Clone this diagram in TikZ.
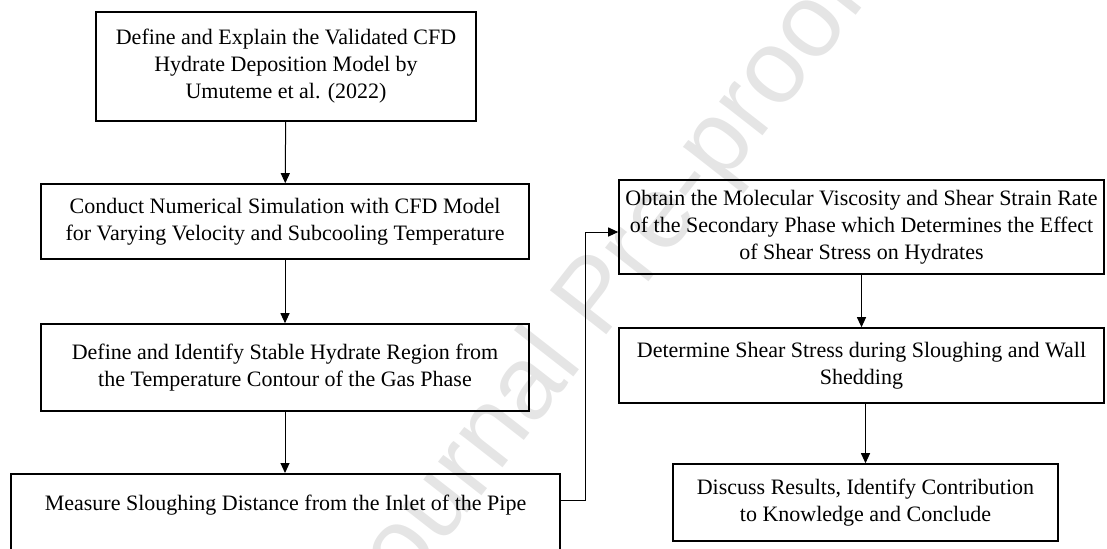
\documentclass[tikz,border=0pt]{standalone}
\usepackage{fontspec}
\setmainfont{Liberation Serif}
\newfontfamily\wmfont{Liberation Sans}
\usetikzlibrary{arrows.meta, positioning}

\begin{document}
\begin{tikzpicture}[x=0.5pt, y=-0.5pt,
	stepbox/.style = {draw, line width=0.8pt, align=center, inner sep=0pt,
		font=\fontsize{11}{13.5}\selectfont},
	flow/.style = {-{Triangle[length=5pt, width=4.5pt]}, line width=0.5pt},
]
	\useasboundingbox (0,0) rectangle (1107,548);
	\clip (0,0) rectangle (1107,548);

	% watermark
	\node (wm) [rotate=52, text=black!10, font=\wmfont\fontsize{52}{52}\selectfont] at (600,300) {Journal Pre-proof};

	\node (s1) [stepbox, minimum width=190pt, minimum height=54.5pt] at (286,66.5)
		{Define and Explain the Validated CFD\\Hydrate Deposition Model by\\Umuteme et al. (2022)};
	\node (s2) [stepbox, minimum width=244pt, minimum height=37.5pt] at (285,221.5)
		{Conduct Numerical Simulation with CFD Model\\for Varying Velocity and Subcooling Temperature};
	\node (s3) [stepbox, minimum width=244pt, minimum height=43.5pt] at (285,367.5)
		{Define and Identify Stable Hydrate Region from\\the Temperature Contour of the Gas Phase};
	\node (s4) [stepbox, minimum width=274.5pt, text height=18.5pt, text depth=45pt, anchor=north] at (285.5,473)
		{Measure Sloughing Distance from the Inlet of the Pipe};
	\node (s5) [stepbox, minimum width=242.5pt, minimum height=47pt] at (861.5,227)
		{Obtain the Molecular Viscosity and Shear Strain Rate\\of the Secondary Phase which Determines the Effect\\of Shear Stress on Hydrates};
	\node (s6) [stepbox, minimum width=242.5pt, minimum height=37.5pt] at (861.5,365.5)
		{Determine Shear Stress during Sloughing and Wall\\Shedding};
	\node (s7) [stepbox, minimum width=192.5pt, minimum height=38.5pt] at (865.5,502.5)
		{Discuss Results, Identify Contribution\\to Knowledge and Conclude};

	\coordinate (bend) at (585.5,500);

\path [flow]
	(s1) edge (s2)
	(s2) edge (s3)
	(s3.south) edge (s3.south |- s4.north)
	(s5) edge (s6)
	(s7.north |- s6.south) edge (s7.north);
	\draw [flow] (s4.east |- bend) -- (bend) |- ([yshift=-2.5pt]s5.west);
\end{tikzpicture}
\end{document}
